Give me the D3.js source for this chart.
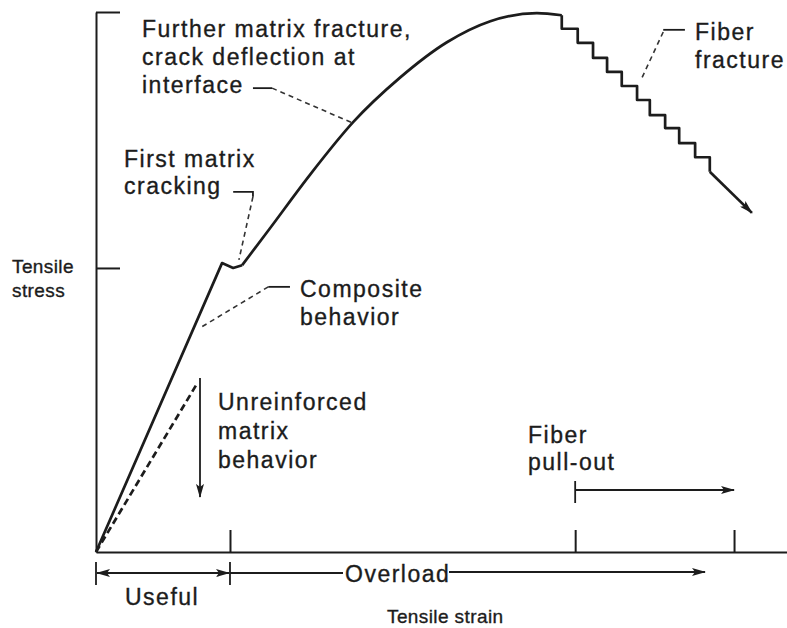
<!DOCTYPE html>
<html>
<head>
<meta charset="utf-8">
<script src="https://cdn.jsdelivr.net/npm/d3@7"></script>
<style>
  body { margin: 0; background: #fff; }
  text { font-family: "Liberation Sans", Arial, Helvetica, sans-serif; fill: #1c1c1c; stroke: #1c1c1c; stroke-width: 0.35px; }
  .big { font-size: 23px; letter-spacing: 1.5px; }
  .small { font-size: 19px; letter-spacing: 0.4px; }
  .axis path, .axis line { stroke: #1c1c1c; stroke-width: 2px; }
  .curve { fill: none; stroke: #1c1c1c; stroke-width: 2.7px; stroke-linejoin: round; }
  .lead { fill: none; stroke: #333; stroke-width: 1.6px; stroke-dasharray: 5,4; }
  .solid { fill: none; stroke: #1c1c1c; stroke-width: 1.8px; }
</style>
</head>
<body>
<div id="chart"></div>
<script>
// linear rise up to first matrix cracking (strain, stress in arbitrary units 0..100)
var riseStrain = [0, 19.75, 21.5, 22.9];
var riseStress = [0, 53.5, 52.6, 53.1];
// composite hardening up to the maximum
var hardStrain = [22.9, 27.3, 33.5, 40.3, 47.6, 55.0, 61.8, 69.1, 73.0];
var hardStress = [53.1, 60.0, 69.8, 79.6, 87.8, 94.4, 98.3, 99.8, 99.4];
// stepwise fiber fracture
var stepStrain = [73.0, 75.5, 77.9, 80.1, 82.4, 84.8, 86.8, 89.2, 91.4, 93.9, 96.2, 96.2];
var stepStress = [99.4, 96.9, 94.3, 91.5, 88.9, 86.3, 83.7, 80.9, 78.5, 75.7, 73.1, 70.4];
// final fall-off
var tailStrain = [96.2, 102.8];
var tailStress = [70.4, 62.8];
// unreinforced matrix
var matrixStrain = [0, 15.9];
var matrixStress = [0, 31.3];
// axis ticks
var stressTicks = [52.6, 100];
var strainTicks = [21, 75.1, 100];

var W = 787, H = 628;
var x = d3.scaleLinear().domain([0, 108.3]).range([96, 787]);
var y = d3.scaleLinear().domain([0, 100]).range([552, 12]);

var svg = d3.select("#chart").append("svg")
  .attr("width", W)
  .attr("height", H);

var defs = svg.append("defs");
function marker(id, orient) {
  defs.append("marker")
    .attr("id", id)
    .attr("viewBox", "0 0 14 8")
    .attr("refX", 13).attr("refY", 4)
    .attr("markerWidth", 14).attr("markerHeight", 8)
    .attr("markerUnits", "userSpaceOnUse")
    .attr("orient", orient)
    .append("path")
    .attr("d", "M0,0 L14,4 L0,8 L3,4 Z")
    .attr("fill", "#1c1c1c");
}
marker("arr", "auto");
marker("arrStart", "auto-start-reverse");

function zip(a, b) { return a.map(function (d, i) { return [d, b[i]]; }); }

// axes
svg.append("g")
  .attr("class", "axis")
  .attr("transform", "translate(" + x(0) + ",0)")
  .call(d3.axisRight(y).tickValues(stressTicks).tickSize(24).tickSizeOuter(0).tickFormat(""));

svg.append("g")
  .attr("class", "axis")
  .attr("transform", "translate(0," + y(0) + ")")
  .call(d3.axisTop(x).tickValues(strainTicks).tickSize(22).tickSizeOuter(0).tickFormat(""));

svg.selectAll(".axis .domain").attr("fill", "none");

// curves
var lin = d3.line().x(function (d) { return x(d[0]); }).y(function (d) { return y(d[1]); });
var smooth = d3.line().curve(d3.curveMonotoneX).x(function (d) { return x(d[0]); }).y(function (d) { return y(d[1]); });
var stairs = d3.line().curve(d3.curveStepBefore).x(function (d) { return x(d[0]); }).y(function (d) { return y(d[1]); });

svg.append("path").attr("class", "curve").attr("d", lin(zip(riseStrain, riseStress)));
svg.append("path").attr("class", "curve").attr("d", smooth(zip(hardStrain, hardStress)));
svg.append("path").attr("class", "curve").attr("stroke-width", 2.3).attr("d", stairs(zip(stepStrain, stepStress)));
svg.append("path").attr("class", "curve").attr("stroke-width", 2)
  .attr("marker-end", "url(#arr)")
  .attr("d", lin(zip(tailStrain, tailStress)));

svg.append("path").attr("class", "curve")
  .attr("stroke-width", 2.2)
  .attr("stroke-dasharray", "7,4")
  .attr("d", lin(zip(matrixStrain, matrixStress)));

// down arrow for unreinforced matrix
svg.append("line").attr("class", "solid")
  .attr("x1", x(16.3)).attr("y1", y(32.2))
  .attr("x2", x(16.3)).attr("y2", y(10.2))
  .attr("stroke-width", 2)
  .attr("marker-end", "url(#arr)");

// leaders
function leader(pts, dashed) {
  svg.append("path")
    .attr("class", dashed ? "lead" : "solid")
    .attr("d", lin(pts));
}
leader([[24.6, 85.9], [27.6, 85.9]], false);
leader([[27.6, 85.9], [40.3, 79.4]], true);
leader([[21.5, 66.7], [24.6, 66.7], [24.6, 65.8]], false);
leader([[24.6, 65.8], [22.4, 54.1]], true);
leader([[27.0, 49.1], [30.4, 49.1]], false);
leader([[27.0, 49.1], [16.3, 41.5]], true);
leader([[88.9, 96.7], [92.3, 96.7]], false);
leader([[88.9, 96.3], [85.4, 87.4]], true);

// strain range brackets under the axis
var by = 573;
[0, 21].forEach(function (v) {
  svg.append("line").attr("class", "solid")
    .attr("x1", x(v)).attr("x2", x(v)).attr("y1", 562).attr("y2", 585);
});
svg.append("line").attr("class", "solid")
  .attr("x1", x(0) + 1).attr("x2", x(21) - 1).attr("y1", by).attr("y2", by)
  .attr("marker-start", "url(#arrStart)")
  .attr("marker-end", "url(#arr)");
svg.append("line").attr("class", "solid")
  .attr("x1", x(21)).attr("x2", 343).attr("y1", by).attr("y2", by);
svg.append("line").attr("class", "solid")
  .attr("x1", 449).attr("x2", 705).attr("y1", by - 1).attr("y2", by - 1)
  .attr("marker-end", "url(#arr)");

// fiber pull-out bracket
svg.append("line").attr("class", "solid")
  .attr("x1", x(75.1)).attr("x2", x(75.1)).attr("y1", 481).attr("y2", 503);
svg.append("line").attr("class", "solid")
  .attr("x1", x(75.1)).attr("x2", x(100)).attr("y1", 490).attr("y2", 490)
  .attr("marker-end", "url(#arr)");

// labels
function label(lines, px, py, cls, dy) {
  var t = svg.append("text").attr("class", cls).attr("x", px).attr("y", py);
  lines.forEach(function (s, i) {
    t.append("tspan").attr("x", px).attr("dy", i ? dy : 0).text(s);
  });
}
label(["Further matrix fracture,", "crack deflection at", "interface"], 142, 37, "big", 28);
label(["First matrix", "cracking"], 124, 167, "big", 27);
label(["Composite", "behavior"], 300, 297, "big", 28);
label(["Unreinforced", "matrix", "behavior"], 218, 410, "big", 29);
label(["Fiber", "fracture"], 695, 40, "big", 28);
label(["Fiber", "pull-out"], 528, 443, "big", 27);
label(["Useful"], 125, 605, "big", 0);
label(["Overload"], 345, 582, "big", 0);
label(["Tensile", "stress"], 12, 273, "small", 24);
label(["Tensile strain"], 387, 623, "small", 0);
</script>
</body>
</html>
